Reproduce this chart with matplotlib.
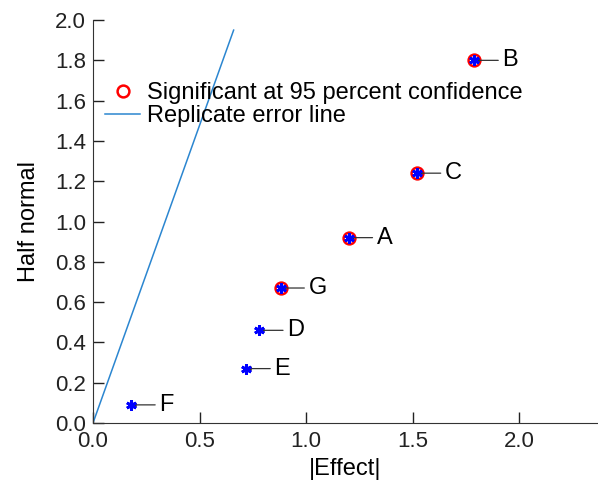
import matplotlib
matplotlib.use("Agg")
import matplotlib.pyplot as plt

plt.rcParams['font.family'] = ['Liberation Sans', 'DejaVu Sans']

# effect names, absolute effect sizes and half-normal scores
names = ['F', 'E', 'D', 'G', 'A', 'C', 'B']
effect = [0.18, 0.72, 0.78, 0.88, 1.20, 1.52, 1.79]
halfnorm = [0.09, 0.27, 0.46, 0.67, 0.92, 1.24, 1.80]
significant = [False, False, False, True, True, True, True]

# replicate error line end points
line_x = [0.0, 0.66]
line_y = [0.0, 1.95]

fig = plt.figure(figsize=(5.98, 4.82), dpi=100)
ax = fig.add_axes([0.1555, 0.1224, 0.8445, 0.836])

sig_x = [e for e, s in zip(effect, significant) if s]
sig_y = [h for h, s in zip(halfnorm, significant) if s]
ax.plot(sig_x, sig_y, 'o', ms=8.5, mfc='none', mec='red', mew=1.8,
        label='Significant at 95 percent confidence', zorder=3)
ax.plot(line_x, line_y, '-', color='#2b86d0', lw=1.1,
        label='Replicate error line', zorder=2)
ax.plot(effect, halfnorm, ls='none', marker=(6, 2, 0), ms=7.5, mec='blue',
        mew=2.0, zorder=4)

for n, x, y in zip(names, effect, halfnorm):
    ax.annotate(n, xy=(x, y), xytext=(28, 0), textcoords='offset pixels',
                fontsize=17, va='center', ha='left',
                arrowprops=dict(arrowstyle='-|>', color='#333333', lw=0.9,
                                mutation_scale=6, shrinkA=1, shrinkB=0))

ax.set_xlim(0, 2.37)
ax.set_ylim(0, 2.0)
ax.set_xticks([0, 0.5, 1.0, 1.5, 2.0])
ax.set_yticks([0.0, 0.2, 0.4, 0.6, 0.8, 1.0, 1.2, 1.4, 1.6, 1.8, 2.0])
ax.xaxis.set_major_formatter(matplotlib.ticker.FormatStrFormatter('%.1f'))
ax.yaxis.set_major_formatter(matplotlib.ticker.FormatStrFormatter('%.1f'))
ax.tick_params(direction='in', length=8, width=1, labelsize=16,
               colors='#222222')
ax.tick_params(axis='x', pad=6)
ax.tick_params(axis='y', pad=5)
for side in ['top', 'right']:
    ax.spines[side].set_visible(False)
for side in ['left', 'bottom']:
    ax.spines[side].set_color('#333333')

ax.set_xlabel('|Effect|', fontsize=17, labelpad=4)
ax.set_ylabel('Half normal', fontsize=17, labelpad=11)

ax.legend(loc='upper left', bbox_to_anchor=(0.0, 0.875), frameon=False,
          fontsize=17, handlelength=1.5, handletextpad=0.3,
          labelspacing=0.05, borderaxespad=0.3, borderpad=0.2)

fig.savefig('out.png', dpi=100)
